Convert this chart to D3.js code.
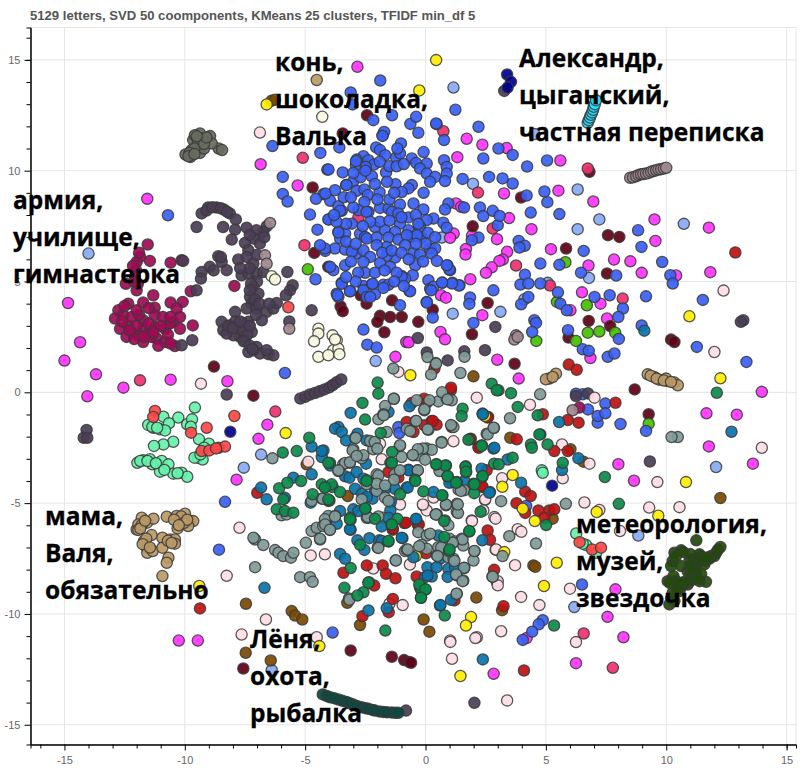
<!DOCTYPE html>
<html>
<head>
<meta charset="utf-8">
<script src="https://d3js.org/d3.v7.min.js"></script>
<style>
  html, body { margin: 0; padding: 0; background: #fff; }
  svg { display: block; }
</style>
</head>
<body>
<div id="here"></div>
<script>
var titleText = "5129 letters, SVD 50 coomponents, KMeans 25 clusters, TFIDF min_df 5";
var majorTicks = [-15, -10, -5, 0, 5, 10, 15];
var minorTicks = [-16,-14,-13,-12,-11,-9,-8,-7,-6,-4,-3,-2,-1,1,2,3,4,6,7,8,9,11,12,13,14,15,16];

var noteLines = [
  ["конь,", "шоколадка,", "Валька"],
  ["Александр,", "цыганский,", "частная переписка"],
  ["армия,", "училище,", "гимнастерка"],
  ["мама,", "Валя,", "обязательно"],
  ["метеорология,", "музей,", "звездочка"],
  ["Лёня,", "охота,", "рыбалка"]
];

var lightBlue = [[-14,6.26],[-2.07,1.41],[1.16,13.75],[4.52,11.65],[6.32,9.15],[7.22,7.8],[10.73,7.6],[1.97,9.41],[0.67,6.98],[6.79,5.16],[5.08,4.94],[4.11,4.2],[1.13,3.55],[3.11,3.63],[6.32,7.36],[-0.26,7.46],[-6.83,-2.81],[-7.55,-3.4],[-6.39,-12.54],[8.84,-6.46],[12.07,-3.37],[6.18,-9.69]];

var magenta = [[-2.83,14.69],[-6.85,10.29],[-5.31,9.33],[-11.56,8.73],[-14.85,4.03],[-14.35,2.26],[-15,1.43],[-13.69,0.81],[-12.55,0.21],[-10.59,0.57],[-8.23,0.5],[-1.25,1.6],[-0.8,2.27],[-14.05,-0.18],[-6.57,-1.46],[-6.94,-2.1],[-7.85,-3.94],[-10.25,-11.2],[-9.46,-11.2],[1.71,11.44],[2.36,11.17],[3.37,11.02],[1.32,10.61],[5.6,10.46],[5.52,9.1],[3.26,8.97],[6.97,8.61],[9.51,7.8],[11.77,7.43],[4.4,7.36],[3.47,7.86],[1.27,8.52],[1.48,8.37],[2.97,6.91],[1.17,7.16],[1.02,6.97],[1.93,7.07],[1.68,6.47],[1.66,6.22],[3.39,6.34],[3.21,5.99],[3.07,5.93],[2.75,5.64],[2.51,5.39],[1.86,5.1],[5.21,6.46],[9.55,6.83],[7.83,5.99],[8.51,5.91],[6.77,5.72],[8.98,5.39],[10.41,5.27],[11.83,5.42],[6.5,4.51],[7.27,4],[6.02,3.7],[7.54,3.33],[2.36,3.48],[0.64,4.38],[0.85,4.27],[0.62,2.72],[0.81,2.39],[-0.7,2.26],[2.98,1.47],[6.85,1.55],[3.87,0.62],[13.97,0.02],[11.67,-0.95],[12.93,-1.01],[11.77,-2.44],[8.01,-3.24],[13.6,-3.22],[8.66,-3.99],[7.89,-8.89],[7.56,-10.13],[8.22,-11.05],[6.25,-12.22],[2.83,-12.7],[4.2,-11.09]];

var darkMaroon = [[-4.69,9.24],[-4.62,6.29],[-2.43,12.5],[-3.44,11.68],[-4.04,5.66],[-3.53,3.88],[-3.44,3.66],[-2.45,4],[-2.69,4.38],[-1.39,4.15],[-1.89,3.45],[-2,3.18],[-1.47,3.4],[-0.99,3.4],[-1.71,2.71],[-8.79,1.16],[-7.15,-0.15],[-3.11,-11.65],[-1.4,-11.93],[-0.89,-12.08],[-7.57,-12.46],[-0.67,-12.17],[-0.6,-12.2],[8.69,0.13],[9.27,-0.99],[6.81,9.95],[3.97,8.79],[1.96,7.49],[7.58,7.09],[8.05,7.01],[5.84,6.49],[7.54,5.36],[2.58,4.03],[0.3,3.73],[-0.3,3.18],[1.93,2.62],[6.78,3.22],[7.67,2.99],[5.94,2.47],[3.7,1.29],[10.2,2.38],[10.34,2.27]];

var crimson = [[-5.1,10.58],[-5.03,6.64],[-11.86,0.54],[-2.79,7.89],[0.74,11.78],[2.18,9.01],[2.79,7.39],[3.76,5.72],[5.17,4.82],[8.19,4.23],[6.74,10.1],[-6.24,-0.87],[6.57,-10.88],[7.78,-12.43]];

var brightGreen = [[-4.89,5.55],[5.81,5.87],[5.46,4.08],[6.7,3.93],[6.74,2.69],[7.22,2.74],[7.88,2.69],[4.6,2.32],[6.25,2.32],[9.27,-1.42]];

var royalBlue = [[-0.63,12.11],[-0.3,11.71],[-1.78,11.6],[-1.72,11.75],[0.77,11.38],[2.2,11.98],[0.46,12.1],[-1.02,11.23],[-2.05,11.05],[-1.89,10.93],[-0.08,10.84],[-1.68,10.7],[-1.22,10.6],[-1.06,10.78],[-1.17,11],[-2.58,10.65],[-2.86,10.5],[-2.37,10.47],[-2.14,10.28],[-2.89,10.25],[-2.48,10.17],[-0.57,10.55],[-0.39,10.35],[0.05,10.32],[-0.23,10.1],[0.77,10.47],[0.88,10.17],[0.05,9.87],[0.4,9.72],[0.88,9.87],[0.81,9.53],[0.19,9.5],[-4.08,10.05],[-3.44,9.92],[-1.64,9.92],[-2.23,9.75],[-3.01,9.5],[-3.3,9.35],[-2.86,9.09],[-2.54,9.15],[-2.4,8.9],[-1.91,9.03],[-1.25,9.39],[-0.57,9.35],[-0.71,9.2],[-0.08,9],[-0.99,9.04],[-3.76,9.12],[-4.24,8.94],[-3.96,8.64],[-2.54,8.59],[-3.48,8.19],[-3.62,8.4],[-1.89,8.32],[-1.06,8.47],[-0.5,8.52],[-0.09,8.25],[-1.54,8.29],[-1.4,8.14],[-1.13,8.07],[-2.37,8.14],[-2.79,8.22],[-3,8.34],[-3.06,7.61],[-4.01,7.8],[0.33,7.84],[0.05,7.77],[0.74,7.65],[0.88,7.43],[-0.71,7.89],[-0.23,7.46],[-2.1,7.46],[-1.06,7.61],[-1.68,7.31],[-1.26,7.24],[-0.71,7.31],[-0.57,7.01],[-0.16,6.98],[-0.36,7.09],[-2.72,7.16],[-2.51,7.01],[-2.44,6.94],[-3.62,7.24],[-3.55,6.94],[-3.34,7.16],[-2.03,6.98],[-1.54,6.98],[-1.13,6.89],[-0.78,7.09],[-1.61,6.56],[-2.03,6.64],[-0.85,6.64],[-3.76,6.49],[-3.34,6.44],[-4.17,6.38],[-2.86,6.26],[-3.06,6.34],[-2.58,6.41],[-2.3,6.11],[-1.26,6.08],[-1.61,6.16],[-0.5,6.29],[-0.23,6.22],[0.19,6.49],[0.4,6.49],[0.26,6.26],[0.47,5.93],[0.91,5.73],[1.02,5.51],[-0.43,5.73],[-2.58,5.88],[-3.34,5.73],[-1.89,5.84],[-1.47,5.66],[-3.83,5.51],[-3.96,5.66],[-2.51,5.39],[-3.48,4.94],[-3.13,4.56],[-3.69,4.45],[-3.62,4.3],[-2.58,4.8],[-2.23,4.86],[-1.75,4.85],[-1.54,4.85],[-0.99,5.25],[-0.53,5.28],[-0.85,5.13],[0.12,5.06],[0.19,4.68],[0.7,4.94],[1.12,4.94],[1.41,4.83],[-0.67,4.58],[-2.58,4.6],[-2.44,4.3],[-2.1,4.42],[-2.3,4.3],[-1.75,4.71],[0.33,4.76],[0.05,4.08],
[1.54,9.63],[2.64,9.72],[2.4,10.55],[3.03,11],[0.95,8.52],[0.81,8.25],[1.6,8.34],[2.26,8.34],[2.4,7.95],[2.79,8.19],[3,7.54],[2.2,6.98],[1.92,6.86],[2.82,4.6],[1.85,4.28],
[1.24,12.75],[-0.39,12.43],[0.44,12.13],[3.62,10.71],[4.22,10.19],[5.05,10.46],[3.2,9.65],[3.62,9.42],[4.2,8.88],[4.94,9.06],[5.06,8.58],[4.37,8.11],[5.56,8.04],[3.08,7.96],[8.83,7.31],[8.97,6.56],[6.57,6.38],[3.87,6.83],[4.12,6.61],[3.9,6.53],[4.77,5.81],[5.56,5.75],[6.46,5.4],[7.92,5.27],[9.83,5.88],[10.17,5.28],[10.27,4.91],[4.13,5.31],[3.94,4.86],[4.27,4.91],[4.77,4.91],[1.82,3.99],[3.97,3.97],[4.27,4.3],[5.5,4.51],[5.6,4],[5.87,3.7],[7.02,4.3],[7.65,4.38],[9.16,4.33],[8.2,3.78],[8.01,3.4],[11.52,4.17],[8.98,3.02],[4.52,3.25],[4.59,3.13],[4.43,2.72],[5.92,2.8],[8.03,2.41],[6.53,1.94],[6.78,1.87],[7.57,1.6],[7.85,1.75],[11.27,2.05],[13.33,1.37],[1.99,3.13],[0.3,3.37],[0.05,4.05],[1.39,4.82],[1.1,4.91],[0.69,4.95],[0.23,4.6],[-0.64,4.56],[0.99,5.54],[0.88,5.73],
[-1.88,14.07],[-3.11,13.53],[-3.03,12.99],[-1.39,12.5],[-2.17,12.28],[-1.79,11.57],[-6.36,11.11],[-4.37,10.8],[-3.58,11.05],[-4.03,10.05],[-5.93,9.72],[-5.93,8.95],[-5.73,8.61],[-10.7,7.99],[-4.8,8.02],[-4.49,7.34],[-4.57,5.1],[-4.55,8.73],[-4.04,7.8],[-3.62,7.21],[-4.18,6.49],[-4.38,6.64],[-3.14,4.56],[-3.66,4.38],[-3.48,4.9],[-3.55,8.19],[-2.45,8.14],[-4.16,8.97],[-3.28,9.35],[-2.89,10.43],[-2.58,2.83],[-2.42,2.15],[-2.03,2.02],[-5.84,0.87],[-0.99,5.2],[-1.06,3.93],
[-1.13,-1.57],[-1.09,-1.84],[8.1,-1.43],[9.16,-1.74],[7.15,-1.37],[7.47,-0.51],[6.75,-0.77],[6.53,-0.09],[6.25,-0.06],[7.15,-1.07],[7.47,-0.95],[4.18,-5.13],[6.5,-8.67],[4.87,-10.28],[4.7,-10.47],[4.43,-10.8],[4.04,-11.17],[-8.33,-4.94],[-8.58,-7.1],[-3.86,-10.84],
[-1.9,7.7],[-1.5,7.75],[-1,7.9],[-0.4,8],[-2.3,7.7],[-2.6,7.5],[-3.3,7.6],[-3.7,7.7],[-3.3,6.8],[-2.9,6.7],[-1.8,6.3],[-1.4,6.4],[-1,6.3],[-0.7,6],[-0.1,5.9],[-2.1,5.4],[-1.7,5.5],[-1.2,5.4],[-2.8,5.4],[-3.1,5.9],[-2,8.7],[-1.5,8.7],[-1.3,9],[-2.1,9.4],[-1.6,9.5],[-2.7,9.7],[-3,9.9],[-2.5,10],[-1.5,10.2],[-1.9,10.4],[-1.2,10.2],[-0.9,10.3],[-3.4,8.8],[-3.1,8.8],[-3.8,8],[-0.3,7.6],[0.1,7.2],[0.4,7],[0,6.7],[-0.4,6.7],[-2.2,4.9],[-2.9,5],[-3.3,5.2],[-1.3,5],[-0.9,4.8]];

var wine = [[-11.54,6.67],[-11.86,6.11],[-12,5.88],[-12.03,5.51],[-12.07,5.2],[-12.45,4.9],[-12,4.6],[-11.45,5.93],[-10.59,5.85],[-10.13,5.96],[-11.31,4.38],[-9.75,4.56],[-7.94,4.8],[-12.35,4],[-11.73,4.05],[-11.25,3.82],[-10.59,4.05],[-10.09,4.08],[-10.34,3.78],[-12.76,3.7],[-12.9,3.33],[-12.55,3.48],[-11.73,3.25],[-11.25,3.48],[-10.91,3.4],[-10.48,3.18],[-12.69,2.87],[-12.35,3.02],[-12.14,2.65],[-11.73,2.87],[-11.25,2.95],[-10.82,2.87],[-10.62,3.1],[-9.67,3.02],[-11.73,2.27],[-11.17,2.42],[-10.82,2.27],[-10.41,2.09],[-11.93,2.57],[-11.52,2.65],[-12.42,2.5],[-10.2,3.4],[-10.2,2.87],[6.39,-0.69],
[-12.5,3.9],[-12.2,3.4],[-12,3],[-11.9,3.5],[-11.5,3.1],[-11.4,2.5],[-11,3],[-10.7,2.6],[-10.6,3.4],[-11.5,3.8],[-12.1,2.4],[-12.6,3.2],[-12.3,2.8],[-11.7,2.5],[-11.1,2.1],[-12.15,5.7],[-12.1,5],[-11.9,6.3],[-11.95,4.9],[-11.3,2.7],[-10.6,2.2],[-12,3.7]];

var darkPurple = [[-9.3,8.07],[-9.03,8.34],[-8.68,8.34],[-8.38,8.25],[-8.13,8.07],[-7.88,7.8],[-9.51,7.46],[-8.41,7.46],[-7.91,7.34],[-7.43,7.43],[-8.05,6.89],[-6.6,7.49],[-6.74,7.24],[-7.02,7.31],[-7.15,6.94],[-7.5,6.74],[-7.36,6.41],[-6.88,6.71],[-8.61,6.14],[-8.47,5.88],[-8.96,5.66],[-9.3,5.43],[-9.33,5.13],[-8.26,5.51],[-7.78,5.99],[-7.43,6.11],[-7.15,5.81],[-7.64,5.28],[-7.36,5.36],[-7.02,5.36],[-6.74,5.43],[-7.15,4.76],[-6.94,4.45],[-7.29,4.3],[-7.22,4],[-7.43,3.78],[-7.02,3.78],[-7.91,3.63],[-6.6,3.63],[-6.32,3.78],[-6.18,4.03],[-5.74,5.43],[-5.52,4.83],[-5.63,4.6],[-5.8,4.38],[-4.73,3.7],[-5.66,3.2],[-8.47,3.18],[-8.4,2.8],[-8.12,3.02],[-7.85,2.87],[-7.57,3.1],[-7.36,3.18],[-7.22,2.72],[-7.71,2.5],[-7.98,2.57],[-8.26,2.65],[-7.5,2.35],[-7.02,2.05],[-7.36,1.82],[-6.88,1.75],[-6.53,1.72],[-6.32,1.67],[-7.15,1.9],[-6.8,3.25],[-9.69,2.35],[-9.51,4.6],[-10.13,2.12],[-10.07,5.93],
[-5.2,-0.28],[-5,-0.2],[-4.8,-0.1],[-4.6,-0.03],[-4.4,0.05],[-4.2,0.13],[-4,0.22],[-3.85,0.33],[-3.7,0.45],[-3.5,0.58],[-14.08,-1.7],[-14.2,-2.05],[-14.05,-2.05],[-8.26,-0.1],[3.27,13.6],[13.2,3.25],[13.1,3.18],[2.9,2.95],[-0.32,2.45],[2.47,1.9],[9.32,-3.12],[2.03,-14.01],[-0.81,-14.36],[0.05,1.8],[1.61,1.85],[0.92,1.44],[6.25,-0.17],[6.75,-0.05],
[-8.2,3],[-7.9,3.2],[-7.6,2.8],[-7.4,2.6],[-8,2.9],[-7.7,3.2],[-7.55,2.3],[-7.3,2.1],[-7.2,1.95],[-6.6,1.9],[-7.3,3],[-7,5],[-7.25,4.9],[-7.3,5.6],[-7,6.2],[-7.3,4.6],[-7.1,4.2],[-6.9,4],[-8.8,5.5],[-8.5,6.1],[-7.7,5.6],[-6.7,7],[-7.3,7.1],[-7.05,3.5],[-6.5,4],[-9.1,8.2],[-8.85,8.35],[-8.5,8.3],[-8.25,8.15]];

var mauve = [[8.5,9.68],[8.62,9.7],[8.75,9.75],[8.85,9.8],[8.95,9.84],[9.05,9.85],[9.16,9.87],[9.27,9.9],[9.37,9.95],[9.47,9.98],[9.58,10.02],[9.68,10.05],[9.79,10.07],[9.9,10.1],[10,10.13],[3.76,2.57],[3.69,2.38],[3.83,2.5],[-6.46,7.64],[-6.67,6.18],[-6.6,5.8],[-5.66,2.87],[6.11,-0.81]];

var oliveGray = [[-9.37,11.68],[-9.65,11.38],[-8.95,11.56],[-9.51,11.08],[-8.59,11],[-8.45,10.93],[-9.97,10.73],[-9.76,10.62],[-9.37,10.8],[-9.2,11],[-9.58,11.6],[-9.3,11.45],[-8.88,11.23],[-9.72,10.93],[-9.45,11.3],[-9.6,11],[-9.8,10.8],[-9.2,11.2],[-9.1,11.5],[-9.5,11.55],[-9.85,10.65],[-9.6,10.75]];

var mint = [[-9.58,-0.69],[-10.27,-1.14],[-10.89,-1.1],[-11.52,-1.47],[-11.31,-1.6],[-11.03,-1.67],[-10.66,-1.4],[-10.82,-1.72],[-9.9,-1.44],[-9.7,-1.22],[-9.75,-1.55],[-9.41,-2.12],[-9,-2.32],[-10.48,-2.23],[-10.89,-2.35],[-11.28,-2.42],[-11.97,-3.18],[-11.73,-3.07],[-11.45,-3.02],[-11.35,-3.25],[-10.96,-3.1],[-10.68,-3.25],[-11.03,-3.58],[-10.48,-3.67],[-10.13,-3.63],[-9.9,-3.81],[-9.46,-2.95],[-9.26,-3.03],[6.26,-6.37],[6.67,-6.89],[6.53,-6.83],[7.09,-7.24],[4.83,-3.52],[4.87,-3.63],[-9.6,-2.95],[-9.35,-2.8],[-11.85,-3.1],[-11.55,-3.1],[-11.2,-3.2],[-10.85,-3.5],[-10.3,-3.65],[-11.35,-1.55],[-11.15,-1.6],[-9.2,-2.5]];

var coral = [[-11.24,-0.84],[-11.31,-1.11],[-9.09,-1.6],[-9.74,-1.82],[-7.94,-1.07],[-9.3,-2.65],[-8.98,-2.62],[-8.6,-2.5],[-8.33,-2.45],[-8.7,-2.53],[-5.7,3.84],[6.4,-6.76],[6.92,-7.09],[7.29,-7.01]];

var tan = [[-12,-6.19],[-11.79,-5.66],[-11.57,-5.88],[-11.3,-5.7],[-11.93,-5.96],[-11.38,-6.44],[-11.69,-6.71],[-11.59,-7.01],[-11.56,-7.24],[-11.33,-7.16],[-10.93,-6.56],[-10.61,-6.64],[-10.41,-6.64],[-10.41,-6.83],[-10.93,-7.01],[-10.68,-7.46],[-10.75,-7.69],[-10.93,-8.29],[-10.75,-5.61],[-10.34,-5.58],[-9.99,-5.48],[-10.2,-5.73],[-9.79,-5.81],[-9.65,-5.81],[-9.86,-6.03],[-10.3,-6.14],[-11.93,-6.21],[5.14,0.62],[5.42,0.84],[5,0.59],[5.28,0.69],[9.23,0.81],[9.5,0.69],[9.71,0.57],[10.06,0.51],[10.34,0.44],[10.48,0.32],[9.99,0.62],[-4.52,14.09],
[-11.8,-6],[-11.6,-6.6],[-11.75,-6.85],[-11.45,-7],[-10.7,-6.7],[-10.55,-6.8],[-10.15,-5.6],[-10.05,-5.9],[-9.9,-5.75],[-10.45,-5.75],[-10.25,-6],[-11.85,-6.15],[-11.65,-5.8],[9.35,0.75],[9.6,0.62],[9.9,0.53],[10.2,0.47]];

var cream = [[-4.29,12.43],[-6.39,5.24],[-6.25,5.09],[-4.45,2.87],[-4.45,2.65],[-3.86,2.57],[-3.69,2.35],[-4.63,2.3],[-3.83,1.9],[-3.62,1.97],[-4.45,1.6],[-4.04,1.67],[-3.58,1.72],[-3.76,2.38]];

var brown = [[-6.4,13.15],[-6.25,13.2],[-3.23,-4.68],[-4.94,-3.25],[-7.46,-9.54],[-5.56,-9.87],[-5.42,-10.07],[-5.12,-10.25],[-7.47,-11.75],[-6.43,-12.1],[-2.72,-10.5],[-3.25,-9.5],[-0.08,-10.25],[0.16,-10.8],[2.11,-9.26],[3.18,-9.83],[4.48,-7.81],[4.56,-7.87],[12.25,-4.77],[3.52,-2.05],[6.02,-2.57],[6.56,-3.13],[5.28,-5.7],[1.1,-1.52],[1.99,0.72]];

var pinkLight = [[-6.88,11.72],[-1.13,0.92],[-9.33,0.39],[12.38,4.59],[12,1.82],[2.13,-0.24],[4.34,-0.56],[-7.73,-6.11],[-8.26,-8.28],[-4.87,-3.13],[-4.77,-7.36],[-4.18,-7.31],[-6.63,-10.25],[-7.64,-10.93],[-4.52,-11.05],[-2.17,-7.95],[-1.5,-9.54],[-0.95,-9.6],[-1.89,-2.32],[-1.82,-3.02],[-1.06,-5.06],[1.16,-2.21],[0.33,-4.75],[-0.09,-5.1],[2.47,-4.85],[2.4,-5.33],[2.86,-5.63],[-0.65,-7.77],[1.92,-5.78],[2.91,-7.1],[2.96,-8.56],[2.13,-11.05],[1.02,-11.2],[0.05,-5.33],[5.67,-2.35],[6.81,-3.22],[5.7,-3.88],[3.18,-3.88],[2.48,-4.83],[-0.11,-5.06],[6.6,-4.97],[7.22,-5.31],[9.29,-5.2],[10.55,-5.18],[9.63,-4.05],[13.97,-2.5],[8.08,-6.26],[1.93,-5.81],[2.91,-5.7],[3.83,-6.18],[3.98,-6.29],[2.93,-7.09],[3.72,-7.8],[3,-8.52],[3,-8.71],[3.97,-9.23],[4.73,-9.6],[6,-8.86],[3.14,-10.78],[2.07,-11.09],[1.03,-11.26],[1.1,-12.02],[3.39,-13.9],[6.25,-11.27],[7.02,-0.24]];

var redPts = [[-0.57,-0.48],[-0.06,-0.29],[0.05,-0.48],[-0.78,-1.34],[0.26,-1.29],[0.46,-1.46],[-0.05,-1.49],[-0.5,-1.79],[1.09,-1.57],[2.6,-1.11],[1.88,-2.09],[-1.54,-3.6],[-1.13,-3.85],[2.54,-3.52],[2.36,-4.27],[2.2,-2.47],[1.05,0.09],[-1.36,-6.2],[-0.88,-5.9],[-0.32,-5.98],[0.02,-7.26],[-2.44,-7.81],[-1.78,-7.81],[-1.64,-8.19],[-1.25,-8.39],[-3.41,-8.14],[-2.13,-8.72],[-0.37,-8.31],[-1.36,-9.32],[-1.53,-9.92],[-2.62,-10.1],[2.58,-6.23],[2.68,-6.65],[2.85,-8.01],[1.06,0.21],[0.3,-1.29],[4.87,-0.99],[2.58,-1.14],[1.86,-2.12],[2.21,-2.5],[3.79,-2.12],[5.35,-2.65],[5.91,-2.65],[4.14,-4.48],[4.37,-4.68],[3.78,-5],[4.14,-5.44],[4.69,-5.33],[5.14,-5.33],[5.35,-5.28],[4.94,-5.66],[2.35,-4.23],[3.24,-9.65],[1.2,-9.39],[4.09,-12.55],[-0.81,-5.88],[-0.28,-5.96],[7.89,-0.47],[6.36,-1.37],[5.91,-1.25],[-6.99,-4.53],[-9.37,-9.75],[-1.36,-6.14],[5.95,1.25],[6.28,1.02],[12.87,6.31],[0.37,1.07]];

var yellow = [[0.44,14.99],[-0.26,13.62],[10.96,3.43],[12.25,0.63],[-0.63,0.77],[-6.6,12.99],[-5.81,-1.84],[-9.4,-8.74],[-4.41,-11.45],[-1.75,-5.66],[3.62,-3.73],[3.19,-4.26],[7.11,-5.4],[9.67,-5.57],[10.82,-4.05],[5.45,-7.69],[4.92,-8.74],[4.04,-5.25],[4.54,-5.81],[1.89,-10.14],[1.68,-10.52],[1.45,-12.8],[2.47,-1.07],[3.27,-7.21],[-0.4,-7.39]];

var oceanBlue = [[-3.11,-0.93],[-0.67,-0.63],[-3.62,-1.57],[-3.76,-1.64],[-3.48,-1.79],[-3.3,-2.17],[-2.83,-1.87],[-2.44,-2.17],[-4.24,-2.62],[-4.31,-2.92],[-3.96,-3.3],[-2.47,-3.22],[-3.34,-3.79],[-3.16,-3.85],[-2.86,-3.6],[-2.58,-3.9],[-2.93,-4.35],[-2.1,-4.42],[-2.2,-4.8],[-1.27,-4.35],[-0.78,-4.3],[-0.71,-3.49],[-1.44,-4.95],[-1.46,-5.33],[-3.55,-5.36],[2.33,-3.45],[1.62,-4],[2.68,-4.5],[2.82,-2.54],[2.37,-0.96],[1.09,-4.05],[0.33,-4.5],[-1.54,-0.89],[-2.64,-4.57],[-1.68,-4.35],[-3.97,-5.63],[-2.44,-4.72],
[-3.69,-5.93],[-3.11,-6.2],[-3.55,-7.29],[-3.34,-7.51],[-2.83,-6.68],[-2.54,-7.11],[-2.33,-6.58],[-1.92,-6.68],[-1.82,-6.05],[-1.54,-5.66],[-0.39,-5.74],[-0.96,-6.58],[-0.5,-7.44],[0.08,-7.89],[0.26,-8.31],[0.53,-6.46],[0.6,-7.51],[0.95,-7.96],[1.61,-7.93],[0.46,-7.89],[-0.02,-8.34],[1.23,-7.89],[2.36,-6.68],[-2.37,-9.84],[-1.61,-9.74],[0.6,-9.62],[1.06,-9.36],
[-4.73,-2.45],[-4.31,-2.65],[-4.73,-3.7],[-5.49,-3.85],[-6.83,-4.3],[-6.6,-4.83],[-5.84,-4.76],[-4.77,-4.98],[-3.14,-6.18],[-6.69,-8.82],[-3,-5.28],[-2.79,-5.36],[-1.82,-6.71],[-0.99,-6.56],
[5.55,-1.34],[2.38,-0.99],[2.86,-2.5],[6.35,-2.98],[5.67,-3.51],[3.97,-4.08],[3.41,-3.03],[4.77,-1.9],[12.71,-1.78],[2.38,-12.05],[-0.7,-3.52],[-0.74,-4.3],[0.62,-9.6],[-0.19,-8.89],[2.65,-4.53],[9.09,2.78],[0.99,-4.08],[0.09,-8.27],[0.92,-8.33],[-0.39,-5.7]];

var tealGray = [[-7.08,-6.64],[-7.15,-6.56],[-6.74,-6.89],[-6.25,-7.12],[-6.11,-7.24],[-5.91,-7.39],[-5.59,-7.46],[-5.49,-7.24],[-4.97,-6.79],[-4.73,-6.26],[-4.38,-6.64],[-4.52,-6.11],[-4.25,-6.03],[-3.97,-6.21],[-3.76,-5.58],[-4.04,-5.58],[-4.18,-5.73],[-7.08,-7.89],[-5.21,-8.34],[-4.8,-8.34],[-4.69,-8.55],[-6.36,-2.98],[-3.18,-9.3],[-5.98,-5.55],[-5.77,-5.51],[-4.73,-4.9],[-4.31,-4.8],[-4.04,-4.9],[-3.62,-3.55],[-3.42,-3.25],[-3.14,-3.18],[-2.93,-2.05],[-3,-2.57],[-2.65,-2.98],[-2.17,-2.57],[-2.3,-2.2],[-1.96,-1.22],[-1.68,-0.62],[-1.31,-0.29],[-1.75,-0.99],[-2.03,-3.7],[-2.45,-4.15],[-2.65,-4.83],[-2.03,-4.45],[-1.68,-4.75],[-1.27,-3.7],[-1.06,-2.42],[-1.54,-4.9],[-2.38,-5.66],[-1.99,-7.01],[-1.24,-7.58],[-0.85,-7.16],
[-1.32,-0.29],[-1.74,-1.04],[-0.37,-0.36],[0.53,-0.41],[0.88,-0.29],[1.09,-0.36],[-0.05,-0.81],[-0.4,-1.29],[-0.78,-1.64],[-1.61,-1.79],[-0.64,-1.75],[0.12,-1.69],[0.67,-2.24],[1.16,-1.57],[2.54,-1.87],[2.84,-1.61],[-2.9,-2.06],[-3.03,-2.62],[-2.11,-2.24],[-2,-2.54],[-1.06,-2.39],[-0.99,-2.92],[-0.5,-2.84],[-0.3,-2.84],[0.05,-2.54],[0.26,-2.59],[-0.02,-3.04],[-2.58,-2.84],[-3.34,-3.19],[-3.14,-3.15],[-3.62,-3.52],[-2.86,-2.87],[-1.96,-3.75],[-2.03,-4.12],[-1.31,-3.94],[-1.68,-4.2],[-1.06,-3.52],[-0.33,-3.52],[0.6,-3.52],[1.6,-4.42],[1.37,-4.39],[-4.27,-4.8],[1.3,-5.03],[0.85,-5.1],[0.47,-5.51],[1.3,-5.4],[-2.44,-5.66],[-1.96,-5.6],
[-4.17,-5.96],[-3.97,-6.2],[-4.38,-6.61],[-3.76,-5.6],[-2.4,-5.63],[-0.3,-6.31],[0.05,-6.46],[0.42,-5.51],[0.81,-5.78],[0.95,-6],[1.35,-5.45],[0.53,-6.99],[0.47,-7.36],[0.19,-6.38],[1,-6.61],[1.23,-6.73],[1.57,-6.91],[1.5,-6.61],[2.03,-7.17],[1.99,-7.59],[0.95,-7.44],[1.16,-7.51],[1.3,-8.26],[1.57,-8.49],[-0.78,-7.09],[-0.16,-6.88],[0.05,-7.06],[-1.23,-7.59],[-1.96,-7.02],[-3.16,-9.36],[2.78,-8.31],[1.3,-9.09],
[4.76,-0.09],[3.51,-1.17],[2.58,-1.9],[2.83,-1.6],[0.67,-2.27],[-0.11,-2.53],[-0.32,-2.57],[-0.53,-2.83],[-0.32,-3.52],[0.58,-3.55],[1.47,-4.45],[1.34,-5.06],[0.85,-5.06],[0.43,-5.51],[1.06,-1.48],[0.69,0],[0.92,-0.32],[0.16,-0.36],[-0.05,-0.77],[-0.39,-1.29],[0.09,-1.67],[3.14,-4.91],[5.83,-5.03],[10.48,-2.02],[10.22,-2.02],[4.59,-6.82],[3.48,-6.49],[2.03,-7.16],[1.54,-6.64],[1.13,-6.79],[0.65,-7],[0.5,-7.39],[1.2,-7.61],[1.6,-7.92],[1.27,-8.22],[1.54,-8.52],[2.79,-8.32],[1.29,-9.09],[3.2,-7.39],[-0.26,-6.94],[-0.74,-7.09],
[-1.34,1.07],[0.42,1.32],[0.23,0.8],[1.45,0.87],[0.08,1.59],[1.62,1.6],[0.44,1.29]];

var greenPts = [[-2.62,-0.48],[-2.51,-1.23],[-1.86,-1.84],[-1.39,-2.69],[-1.46,-3.18],[-3.97,-3.19],[0.46,-3.25],[0.85,-3.3],[0.92,-3.79],[1.67,-3.34],[1.69,-3.6],[1.54,-0.74],[1.5,-1.08],[1.78,-2.14],[2.34,-2.39],[2.85,-3.22],[-4.17,-4.27],[-3.86,-4.27],[-3.55,-4.5],[-3.99,-4.88],[-2.44,-3.97],[-0.44,-3.94],[-0.09,-4.47],[0.7,-4.65],[-1.06,-4.6],[1.3,-4.05],[2,-4.12],[2.02,-4.55],[2.36,-3.82],[-2.49,-5.25],[-3.14,-5.66],[3.03,0.09],
[-3.11,-5.75],[-2.1,-5.71],[-1.41,-5.96],[-1.17,-5.71],[-1.54,-6.73],[-2.72,-6.88],[0.77,-5.81],[1.82,-6.28],[0.98,-7.17],[-3.11,-7.93],[-2.35,-8.57],[-3.37,-8.82],[-2.58,-9.02],[-2.83,-9.17],[-0.19,-9.27],[0,-8.9],[-0.23,-8.79],[0.8,-10.07],[-1.67,-10.75],
[-5.93,-2.72],[-5.35,-2.65],[-4.83,-2.05],[-4.04,-3.18],[-6.08,-4.33],[-5.74,-4.08],[-5.17,-4],[-4.31,-4.15],[-3.9,-4.15],[-4.18,-4.3],[-4.69,-4.6],[-4.04,-4.83],[-5.91,-4.83],[-6.18,-5.28],[-5.84,-5.36],[-5.49,-5.43],[-3.14,-5.73],[-2.51,-5.24],[-1.96,-0.06],[-1.54,-6.71],[-2.38,-8.59],[-1.4,-3.18],[-1.4,-5.96],[-2.45,-4],
[12.1,-0.02],[3.55,-0.04],[2.75,0.39],[2.96,0.09],[3.83,-0.66],[4.66,-1.04],[4.73,-1.9],[5.07,-2.35],[4.38,-2.35],[4.42,-2.5],[2.33,-2.42],[3.62,-2.95],[3.04,-3.25],[0.82,-3.3],[0.44,-3.25],[1.66,-3.37],[1.68,-3.58],[0.92,-3.78],[2.37,-3.78],[2.03,-4.15],[1.27,-4.08],[-0.42,-4],[0.69,-4.64],[0.78,-6.53],[1.82,-6.26],[1,-7.09],[-0.26,-8.67],[0,-8.89],[-0.19,-9.27],[5.34,-10.52],[7.45,-3.82],[8.03,-5.03],[5.7,-3.18],[5.01,-5.99],[2.29,-5.39],[-1.99,0.44]];

var darkGreen = [[11.25,-6.68],[12.25,-6.98],[12.07,-7.24],[11.86,-7.39],[11.65,-7.61],[11.44,-7.39],[11.17,-7.54],[10.97,-7.54],[10.62,-7.13],[10.34,-7.24],[10.27,-7.61],[10.2,-7.84],[10.06,-8.52],[10.41,-8.52],[10.62,-7.84],[10.89,-8.07],[11.24,-7.84],[11.58,-7.76],[11.24,-8.14],[11.1,-8.44],[10.89,-8.67],[11.65,-8.55],[10.55,-8.97],[10.27,-9.04],[10.13,-9.57],[10.34,-9.42],[11.38,-7.31],[12,-7.39],[10.97,-8.29],[11.38,-8.52],
[11,-7.3],[11.3,-7.6],[11.5,-7.5],[11.8,-7.5],[12.15,-7.1],[11,-7.8],[11.1,-8],[10.7,-7.2],[10.4,-7.4],[10.3,-8.3],[10.15,-8.6],[10.7,-8.7],[11,-8.5],[11.45,-8.2],[11.3,-8.4],[10.45,-8.9],[10.2,-9.3],[11.7,-7.45],[10.75,-8.55],[10.55,-8.6]];

var darkTeal = [[-4.27,-13.63],[-4.1,-13.7],[-3.97,-13.76],[-3.8,-13.8],[-3.62,-13.86],[-3.45,-13.92],[-3.28,-13.97],[-3.15,-14.03],[-3,-14.09],[-2.85,-14.15],[-2.65,-14.21],[-2.5,-14.25],[-2.37,-14.28],[-2.2,-14.33],[-2.1,-14.36],[-1.9,-14.4],[-1.75,-14.42],[-1.6,-14.44],[-1.4,-14.45],[-1.25,-14.46],[-1.13,-14.46]];

var cyanPts = [[6.74,12.16],[6.78,12.28],[6.83,12.4],[6.87,12.52],[6.92,12.63],[6.96,12.75],[6.99,12.88],[7.03,13],[7.08,13.18]];

var navy = [[3.39,14.34],[3.55,14.01],[3.41,13.75],[-8.11,-1.78],[5.26,-4.21]];

var clusters = [lightBlue, magenta, darkMaroon, crimson, brightGreen, royalBlue, wine, darkPurple, mauve, oliveGray, mint, coral, tan, cream, brown, pinkLight, redPts, yellow, oceanBlue, tealGray, greenPts, darkGreen, darkTeal, cyanPts, navy];
var clusterColors = ["#88aaf5", "#ff33ff", "#5f0015", "#f0306e", "#44c000", "#3a60f5", "#a00a55", "#4a3d55", "#a08890", "#676b60", "#66f2aa", "#ff4545", "#bb9966", "#f8f8e0", "#7a4a00", "#ffdde5", "#c01010", "#ffee00", "#0a74aa", "#7f9a98", "#0a8a4a", "#224a0a", "#0a4a40", "#22ddff", "#00008f"];

var w = 812, h = 768;
var left = 30.5, right = 796, top_ = 27.5, bottom = 744.5;

var x = d3.scaleLinear().domain([-16.41, 15.39]).range([left, right]);
var y = d3.scaleLinear().domain([16.46, -15.89]).range([top_, bottom]);

var svg = d3.select("#here").append("svg")
  .attr("width", w)
  .attr("height", h)
  .style("background", "#fff");

svg.append("text")
  .attr("x", 30)
  .attr("y", 20)
  .attr("fill", "#555")
  .style("font", "bold 13.1px 'Liberation Sans', Arial, sans-serif")
  .text(titleText);

// plot frame and grid
svg.append("rect")
  .attr("x", left).attr("y", top_)
  .attr("width", right - left).attr("height", bottom - top_)
  .attr("fill", "none").attr("stroke", "#e6e6e6");

svg.selectAll(".gx").data(majorTicks).enter().append("line")
  .attr("x1", function(d) { return x(d); }).attr("x2", function(d) { return x(d); })
  .attr("y1", top_).attr("y2", bottom)
  .attr("stroke", "#e6e6e6");

svg.selectAll(".gy").data(majorTicks).enter().append("line")
  .attr("y1", function(d) { return y(d); }).attr("y2", function(d) { return y(d); })
  .attr("x1", left).attr("x2", right)
  .attr("stroke", "#e6e6e6");

// points
clusters.forEach(function(points, i) {
  svg.append("g").selectAll("circle")
    .data(points)
    .enter().append("circle")
    .attr("cx", function(d) { return x(d[0]); })
    .attr("cy", function(d) { return y(d[1]); })
    .attr("r", 5.6)
    .attr("fill", clusterColors[i])
    .attr("fill-opacity", 0.92)
    .attr("stroke", "#3a3a3a")
    .attr("stroke-opacity", 0.85)
    .attr("stroke-width", 1.3);
});

// axes
function styleAxis(g) {
  g.selectAll("path").attr("stroke", "#000").attr("stroke-width", 1);
  g.selectAll("line").attr("stroke", "#000");
  g.selectAll("text").attr("fill", "#666").style("font", "11px 'Liberation Sans', Arial, sans-serif");
}

var xMinor = d3.axisBottom(x).tickValues(minorTicks.filter(function(d) { return d <= 15 && d >= -16; })).tickSize(4).tickFormat("");
var yMinor = d3.axisLeft(y).tickValues(minorTicks.filter(function(d) { return d >= -15; })).tickSize(4).tickFormat("");
var xMajor = d3.axisBottom(x).tickValues(majorTicks).tickSizeInner(6).tickSizeOuter(0).tickPadding(6).tickFormat(function(d) { return String(d); });
var yMajor = d3.axisLeft(y).tickValues(majorTicks).tickSizeInner(6).tickSizeOuter(0).tickPadding(4).tickFormat(function(d) { return String(d); });

svg.append("g").attr("transform", "translate(0," + bottom + ")").call(xMinor).call(styleAxis);
svg.append("g").attr("transform", "translate(" + left + ",0)").call(yMinor).call(styleAxis);
svg.append("g").attr("transform", "translate(0," + bottom + ")").call(xMajor).call(styleAxis);
svg.append("g").attr("transform", "translate(" + left + ",0)").call(yMajor).call(styleAxis);

// overlaid word labels
var noteLeft = [275, 519, 13, 45, 576, 250];
var noteTop = [71, 67, 209, 525, 533, 648];
noteLines.forEach(function(lines, i) {
  svg.append("g").selectAll("text")
    .data(lines)
    .enter().append("text")
    .attr("x", noteLeft[i])
    .attr("y", function(d, j) { return noteTop[i] + j * 37; })
    .attr("fill", "#000")
    .attr("stroke", "#000")
    .attr("stroke-width", 0.3)
    .style("font", "bold 24.5px 'Open Sans', sans-serif")
    .text(function(d) { return d; });
});
</script>
</body>
</html>
